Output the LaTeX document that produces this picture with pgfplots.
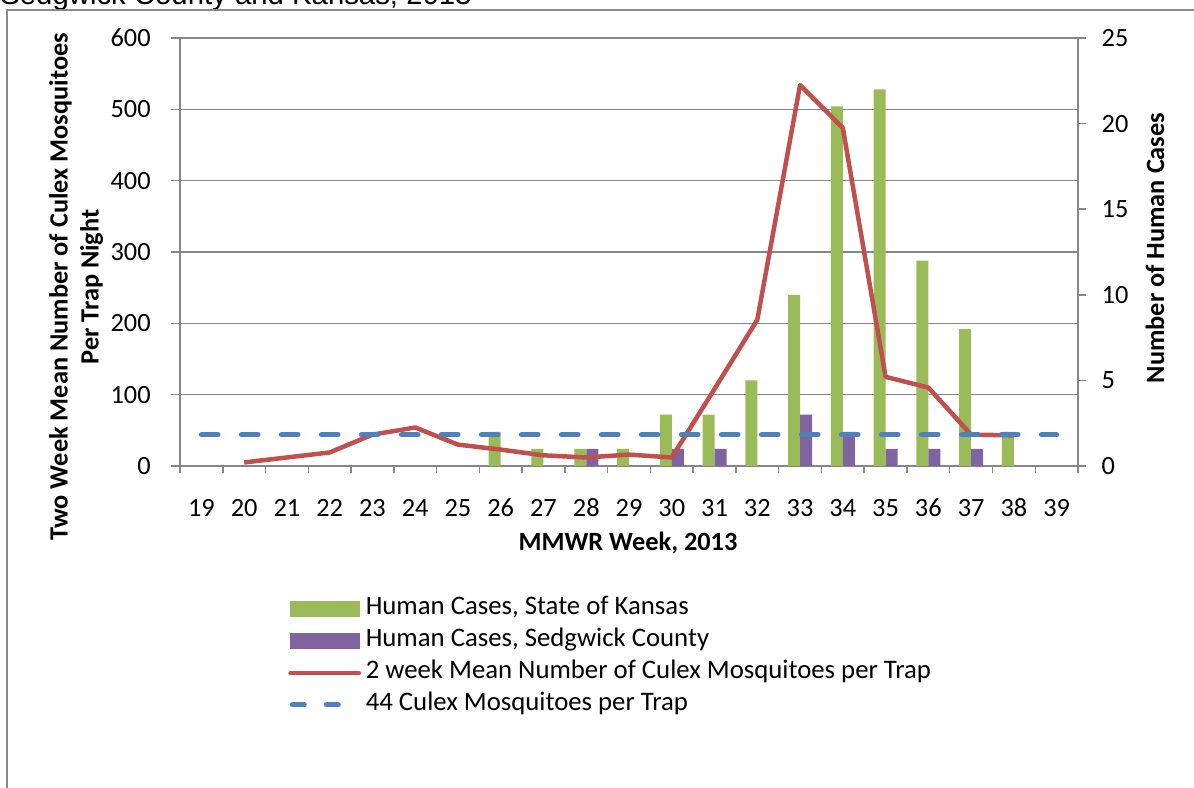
\documentclass[border=0pt]{standalone}
\usepackage{pgfplots}
\pgfplotsset{compat=1.18}
\usepackage{fontspec}
\setmainfont{Carlito}
\newfontfamily\titlefont{Liberation Sans}
\definecolor{kgreen}{HTML}{9BBB59}
\definecolor{kpurple}{HTML}{8064A2}
\definecolor{kred}{HTML}{C0504D}
\definecolor{kblue}{HTML}{4F81BD}
\definecolor{gridgrey}{HTML}{868686}
\definecolor{framegrey}{HTML}{8A8A8A}
\newcommand{\tickfont}{\fontsize{15.8pt}{19pt}\selectfont}
\newcommand{\labfont}{\fontsize{15.8pt}{18.6pt}\selectfont\bfseries}
\begin{document}
\begin{tikzpicture}
\useasboundingbox (0,0) rectangle (716.4pt,-472.2pt);
\node[anchor=base west, inner sep=0pt, font=\titlefont\fontsize{17.6pt}{21pt}\selectfont] at (0pt,-2.6pt) {Sedgwick County and Kansas, 2013};
\draw[framegrey, line width=1.2pt] (4.2pt,-490pt) -- (4.2pt,-6pt) -- (730pt,-6pt);

\pgfplotsset{base/.style={scale only axis, width=538.8pt, height=256.8pt,
  at={(108pt,-279.6pt)}, anchor=south west, xmin=18.5, xmax=39.5,
  /pgf/number format/assume math mode=true,
  tick label style={font=\tickfont}}}

% grid and left / bottom axis
\begin{axis}[base, ymin=0, ymax=600,
  axis x line*=bottom, axis y line*=left,
  axis line style={gridgrey, line width=0.9pt, -},
  ymajorgrids, grid style={gridgrey, line width=0.9pt},
  ytick={0,100,...,600},
  xtick={19,...,39},
  minor xtick={18.5,19.5,...,39.5},
  major x tick style={draw=none},
  minor x tick style={gridgrey, line width=0.9pt},
  major y tick style={gridgrey, line width=0.9pt},
  tick align=outside, major tick length=5.4pt, minor tick length=4.2pt,
  xticklabel style={inner sep=0pt, anchor=base, yshift=-25pt},
  yticklabel style={inner sep=0pt, anchor=east, xshift=-12pt},
]
\end{axis}

% bars, right axis
\begin{axis}[base, ymin=0, ymax=25,
  axis y line*=right, axis x line=none,
  axis line style={gridgrey, line width=0.9pt, -},
  ytick={0,5,...,25},
  ytick style={gridgrey, line width=0.9pt},
  tick align=outside, major tick length=5pt,
  yticklabel style={inner sep=0pt, anchor=west, xshift=9pt},
  ybar, bar width=7.2pt,
]
\addplot[fill=kgreen, draw=none, bar shift=-3.6pt] coordinates {
 (26,2) (27,1) (28,1) (29,1) (30,3) (31,3) (32,5) (33,10) (34,21) (35,22) (36,12) (37,8) (38,2)};
\addplot[fill=kpurple, draw=none, bar shift=3.6pt] coordinates {
 (28,1) (30,1) (31,1) (33,3) (34,2) (35,1) (36,1) (37,1)};
\end{axis}

% lines, left axis
\begin{axis}[base, ymin=0, ymax=600, hide axis,
  legend style={at={(axis description cs:0.1203,-0.304)}, anchor=north west,
    draw=none, fill=none, inner sep=0pt, row sep=4.2pt, column sep=2.6pt,
    font=\fontsize{16.05pt}{19pt}\selectfont,
    nodes={inner sep=0pt, text height=11pt, text depth=4pt}},
  legend cell align=left,
]
\addlegendimage{legend image code/.code={\fill[kgreen] (0pt,-4.5pt) rectangle (41pt,4.5pt);}}
\addlegendentry{Human Cases, State of Kansas}
\addlegendimage{legend image code/.code={\fill[kpurple] (0pt,-4.5pt) rectangle (41pt,4.5pt);}}
\addlegendentry{Human Cases, Sedgwick County}
\addplot[kred, line width=2.7pt, line join=round,
  legend image code/.code={\draw[kred, line width=2.7pt, line cap=round] (0pt,0pt) -- (41pt,0pt);}]
 coordinates {(20,5) (21,12) (22,19) (23,44) (24,54) (25,30) (26,23) (27,15) (28,12) (29,16) (30,12) (31,108) (32,205) (33,534) (34,474) (35,125) (36,110) (37,44) (38,43)};
\addlegendentry{2 week Mean Number of Culex Mosquitoes per Trap}
\addplot[kblue, line width=3pt, line cap=round, dash pattern=on 10pt off 14pt,
  legend image code/.code={\draw[kblue, line width=3pt, line cap=round, dash pattern=on 7.2pt off 13.2pt] (1pt,0pt) -- (41pt,0pt);}]
 coordinates {(19,44) (39,44)};
\addlegendentry{44 Culex Mosquitoes per Trap}
\end{axis}

\node[rotate=90, align=center, font=\labfont] at (45.6pt,-172.2pt) {Two Week Mean Number of Culex Mosquitoes\\Per Trap Night};
\node[rotate=90, font=\labfont] at (693pt,-148.8pt) {Number of Human Cases};
\node[font=\labfont] at (376.8pt,-325.8pt) {MMWR Week, 2013};
\end{tikzpicture}
\end{document}
